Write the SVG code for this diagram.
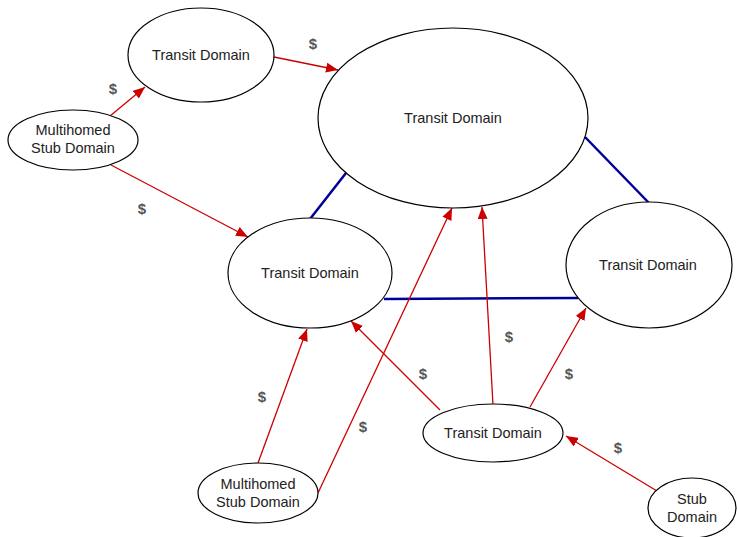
<svg xmlns="http://www.w3.org/2000/svg" width="737" height="537" viewBox="0 0 737 537">
  <defs>
    <marker id="arrow" viewBox="0 0 12 10" refX="12" refY="5" markerWidth="12" markerHeight="10" markerUnits="userSpaceOnUse" orient="auto">
      <path d="M0,0 L12,5 L0,10 Z" fill="#cc0000"/>
    </marker>
    <style>
      .node ellipse { fill: #ffffff; stroke: #000000; stroke-width: 1.2; }
      .node text { font-family: "Liberation Sans", Arial, sans-serif; font-size: 14.5px; fill: #222222; text-anchor: middle; }
      .pay { stroke: #cc0000; stroke-width: 1.3; fill: none; marker-end: url(#arrow); }
      .peer { stroke: #000099; stroke-width: 2.5; fill: none; }
      .cost { font-family: "Liberation Sans", Arial, sans-serif; font-size: 15px; font-weight: bold; fill: #555555; text-anchor: middle; }
    </style>
  </defs>
  <rect width="737" height="537" fill="#ffffff"/>

  <!-- peering links and customer-to-provider links -->
  <g id="connectors">
    <line class="peer" x1="346" y1="173" x2="310" y2="219"/>
    <line class="peer" x1="585" y1="137" x2="649" y2="203"/>
    <line class="peer" x1="384" y1="299" x2="578" y2="298"/>

    <line class="pay" x1="110" y1="116" x2="145" y2="87"/>
    <line class="pay" x1="274" y1="57" x2="338" y2="70"/>
    <line class="pay" x1="111" y1="165" x2="248" y2="237"/>
    <line class="pay" x1="258" y1="463" x2="307" y2="329"/>
    <line class="pay" x1="318" y1="493" x2="452" y2="208"/>
    <line class="pay" x1="440" y1="410" x2="351" y2="321"/>
    <line class="pay" x1="493" y1="405" x2="482" y2="207"/>
    <line class="pay" x1="530" y1="407" x2="586" y2="308"/>
    <line class="pay" x1="657" y1="491" x2="566" y2="436"/>
  </g>

  <g id="cost-labels">
    <text class="cost" x="313" y="49">$</text>
    <text class="cost" x="113" y="94">$</text>
    <text class="cost" x="142" y="214">$</text>
    <text class="cost" x="262" y="402">$</text>
    <text class="cost" x="363" y="432">$</text>
    <text class="cost" x="423" y="379">$</text>
    <text class="cost" x="509" y="342">$</text>
    <text class="cost" x="569" y="379">$</text>
    <text class="cost" x="618" y="453">$</text>
  </g>

  <g id="transit-top" class="node">
    <ellipse cx="201" cy="55" rx="73" ry="47"/>
    <text x="201" y="60">Transit Domain</text>
  </g>
  <g id="transit-core" class="node">
    <ellipse cx="453" cy="118" rx="135" ry="90"/>
    <text x="453" y="123">Transit Domain</text>
  </g>
  <g id="multihomed-left" class="node">
    <ellipse cx="73" cy="140" rx="65" ry="30"/>
    <text x="73" y="135">Multihomed</text>
    <text x="73" y="153">Stub Domain</text>
  </g>
  <g id="transit-left" class="node">
    <ellipse cx="310" cy="273" rx="82" ry="55"/>
    <text x="310" y="278">Transit Domain</text>
  </g>
  <g id="transit-right" class="node">
    <ellipse cx="649" cy="265" rx="83" ry="63"/>
    <text x="648" y="270">Transit Domain</text>
  </g>
  <g id="transit-bottom" class="node">
    <ellipse cx="493" cy="433" rx="70" ry="29"/>
    <text x="493" y="438">Transit Domain</text>
  </g>
  <g id="multihomed-bottom" class="node">
    <ellipse cx="258" cy="493" rx="60" ry="30"/>
    <text x="258" y="489">Multihomed</text>
    <text x="258" y="507">Stub Domain</text>
  </g>
  <g id="stub" class="node">
    <ellipse cx="692" cy="508" rx="44" ry="30"/>
    <text x="692" y="504">Stub</text>
    <text x="692" y="522">Domain</text>
  </g>
</svg>
